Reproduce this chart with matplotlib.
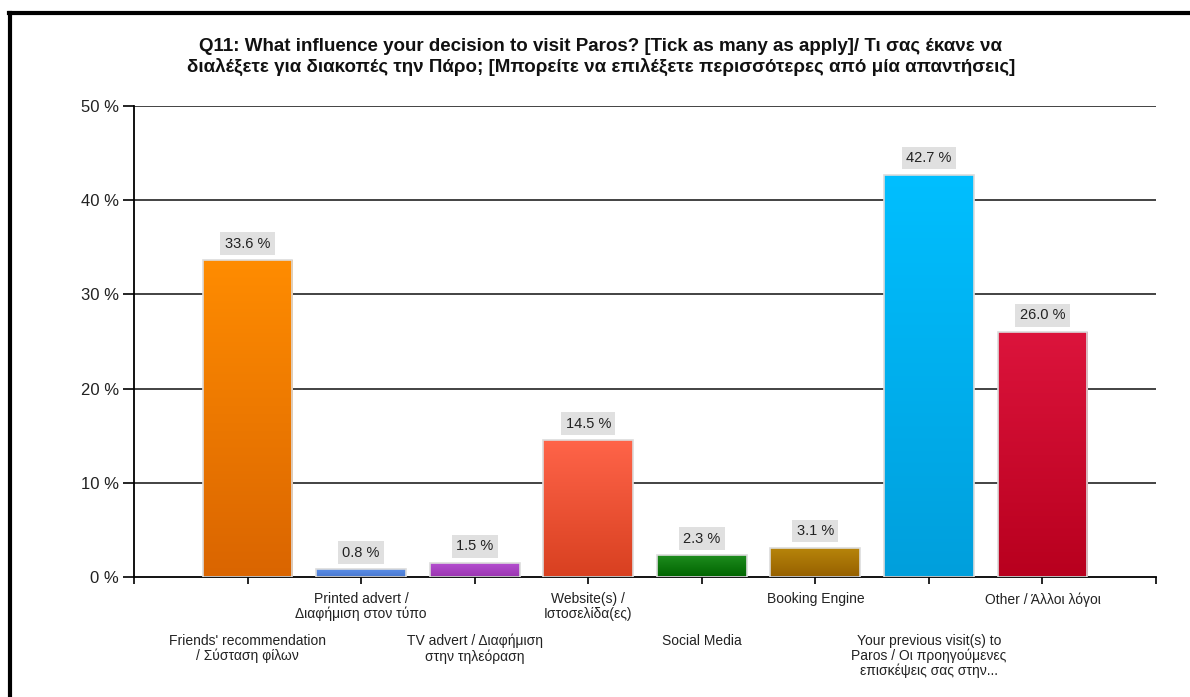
import matplotlib.pyplot as plt
import numpy as np
from matplotlib.colors import LinearSegmentedColormap
from matplotlib.lines import Line2D

plt.rcParams['font.family'] = ['Liberation Sans', 'DejaVu Sans']

title = ("Q11: What influence your decision to visit Paros? [Tick as many as apply]/ Τι σας έκανε να\n"
         "διαλέξετε για διακοπές την Πάρο; [Μπορείτε να επιλέξετε περισσότερες από μία απαντήσεις]")

categories = [
    "Friends' recommendation\n/ Σύσταση φίλων",
    "Printed advert /\nΔιαφήμιση στον τύπο",
    "TV advert / Διαφήμιση\nστην τηλεόραση",
    "Website(s) /\nΙστοσελίδα(ες)",
    "Social Media",
    "Booking Engine",
    "Your previous visit(s) to\nParos / Οι προηγούμενες\nεπισκέψεις σας στην...",
    "Other / Άλλοι λόγοι",
]
values = [33.6, 0.8, 1.5, 14.5, 2.3, 3.1, 42.7, 26.0]
# gradient colours (top, bottom) for each bar
top_colors = ['#FF8C00', '#5A8EE6', '#B650D2', '#FF6449', '#1E8C1E', '#B8860B', '#00BFFF', '#DC143C']
bottom_colors = ['#DA6500', '#4A78D0', '#9A35B0', '#D84020', '#006400', '#966000', '#009FDC', '#B8001E']
yticks = [0, 10, 20, 30, 40, 50]

fig = plt.figure(figsize=(11.9, 6.97), dpi=100)
ax = fig.add_axes([134/1190, 1 - 577/697, (1156 - 134)/1190, (577 - 106)/697])

x = np.arange(len(values))
ax.set_xlim(-1, len(values))
ax.set_ylim(0, 50)

# gridlines
for yv in yticks[1:]:
    ax.axhline(yv, color='#222222', lw=1.2, zorder=1)

bars = ax.bar(x, values, width=0.79, edgecolor='#dcdcdc', linewidth=1.2, zorder=2)
grad = np.linspace(0, 1, 256).reshape(-1, 1)
for b, c1, c2 in zip(bars, top_colors, bottom_colors):
    cmap = LinearSegmentedColormap.from_list('g', [c2, c1])
    x0, w, h = b.get_x(), b.get_width(), b.get_height()
    im = ax.imshow(grad, extent=[x0, x0 + w, 0, h], origin='lower', aspect='auto',
                   cmap=cmap, zorder=2.5, interpolation='bicubic')
    im.set_clip_path(b)
    b.set_facecolor('none')
    b.set_zorder(3)

ax.set_xlim(-1, len(values))
ax.set_ylim(0, 50)

for xi, v in zip(x, values):
    ax.annotate(f"{v:.1f} %", (xi, v), xytext=(0, 7), textcoords='offset points',
                ha='center', va='bottom', fontsize=10.5, color='#222222', zorder=4,
                bbox=dict(boxstyle='square,pad=0.3', fc='#e0e0e0', ec='none'))

# axes styling
for s in ['top', 'right']:
    ax.spines[s].set_visible(False)
ax.spines['left'].set_color('black')
ax.spines['bottom'].set_color('black')
ax.spines['left'].set_linewidth(1.3)
ax.spines['bottom'].set_linewidth(1.3)

ax.set_yticks(yticks)
ax.set_yticklabels([f"{t} %" for t in yticks], fontsize=12, color='#222222')
ax.tick_params(axis='y', length=8, width=1.2, direction='out', pad=3)

ax.set_xticks(np.arange(-1, len(values) + 1))
ax.set_xticklabels([''] + categories + [''], fontsize=10, color='#222222', linespacing=1.05)
ax.tick_params(axis='x', length=5, width=1.2, direction='out')
for i, tick in enumerate(ax.xaxis.get_major_ticks()[1:-1]):
    tick.set_pad(6 if i % 2 == 1 else 36)

fig.text(0.505, 0.918, title, ha='center', va='center', fontsize=13.5,
         fontweight='bold', color='#111111', linespacing=1.25)

# frame lines at top and left
fig.add_artist(Line2D([9/1190, 1], [1 - 13/697, 1 - 13/697], color='black', lw=3,
                      transform=fig.transFigure))
fig.add_artist(Line2D([10/1190, 10/1190], [0, 1 - 13/697], color='black', lw=3,
                      transform=fig.transFigure))

fig.savefig('out.png', dpi=100)
